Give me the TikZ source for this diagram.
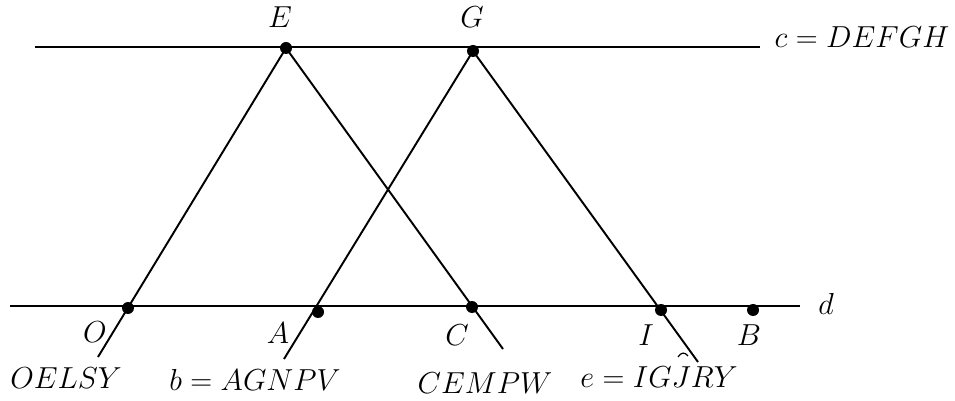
\documentclass[tikz,border=0pt]{standalone}
\begin{document}
\begin{tikzpicture}[x=0.02cm,y=-0.02cm, line width=1.1pt,
  dot/.style={circle,fill=black,inner sep=0pt,minimum size=0.24cm},
  lbl/.style={font=\fontsize{17}{20}\selectfont, inner sep=0pt, anchor=base}]
\useasboundingbox (0,0) rectangle (955,401);
% line ends
\coordinate (c1) at (35,47);
\coordinate (c2) at (760,47);
\coordinate (d1) at (10,306);
\coordinate (d2) at (800,306);
\coordinate (oend) at (98,357);
\coordinate (aend) at (284,359);
\coordinate (cend) at (503,349);
\coordinate (iend) at (698,362);
% points
\coordinate (Ep) at (286,48);
\coordinate (Gp) at (473,51);
% lines
\draw (c1) -- (c2);
\draw (d1) -- (d2);
\draw (oend) -- (Ep);
\draw (Ep) -- (cend);
\draw (aend) -- (Gp);
\draw (Gp) -- (iend);
\draw[line width=0.7pt] (678,357) .. controls (681,352) and (685,352) .. (688,356);
% dots
\node[dot] (E) at (Ep) {};
\node[dot] (G) at (Gp) {};
\node[dot] (O) at (128,308) {};
\node[dot] (A) at (318,312) {};
\node[dot] (C) at (472,307) {};
\node[dot] (I) at (661,310) {};
\node[dot] (B) at (753,310) {};
% labels (baseline positions)
\node[lbl] (lE) at (280,28) {$E$};
\node[lbl] (lG) at (472,28) {$G$};
\node[lbl] (lc) at (862,48) {$c = DEFGH$};
\node[lbl] (ld) at (826,315) {$d$};
\node[lbl] (lO) at (95,342) {$O$};
\node[lbl] (lA) at (278,343) {$A$};
\node[lbl] (lC) at (457,345) {$C$};
\node[lbl] (lI) at (646,345) {$I$};
\node[lbl] (lB) at (749,345) {$B$};
\node[lbl] (l1) at (66,388) {$OELSY$};
\node[lbl] (l2) at (255,390) {$b = AGNPV$};
\node[lbl] (l3) at (485,393) {$CEMPW$};
\node[lbl] (l4) at (659,387) {$e = IGJRY$};
\end{tikzpicture}
\end{document}
